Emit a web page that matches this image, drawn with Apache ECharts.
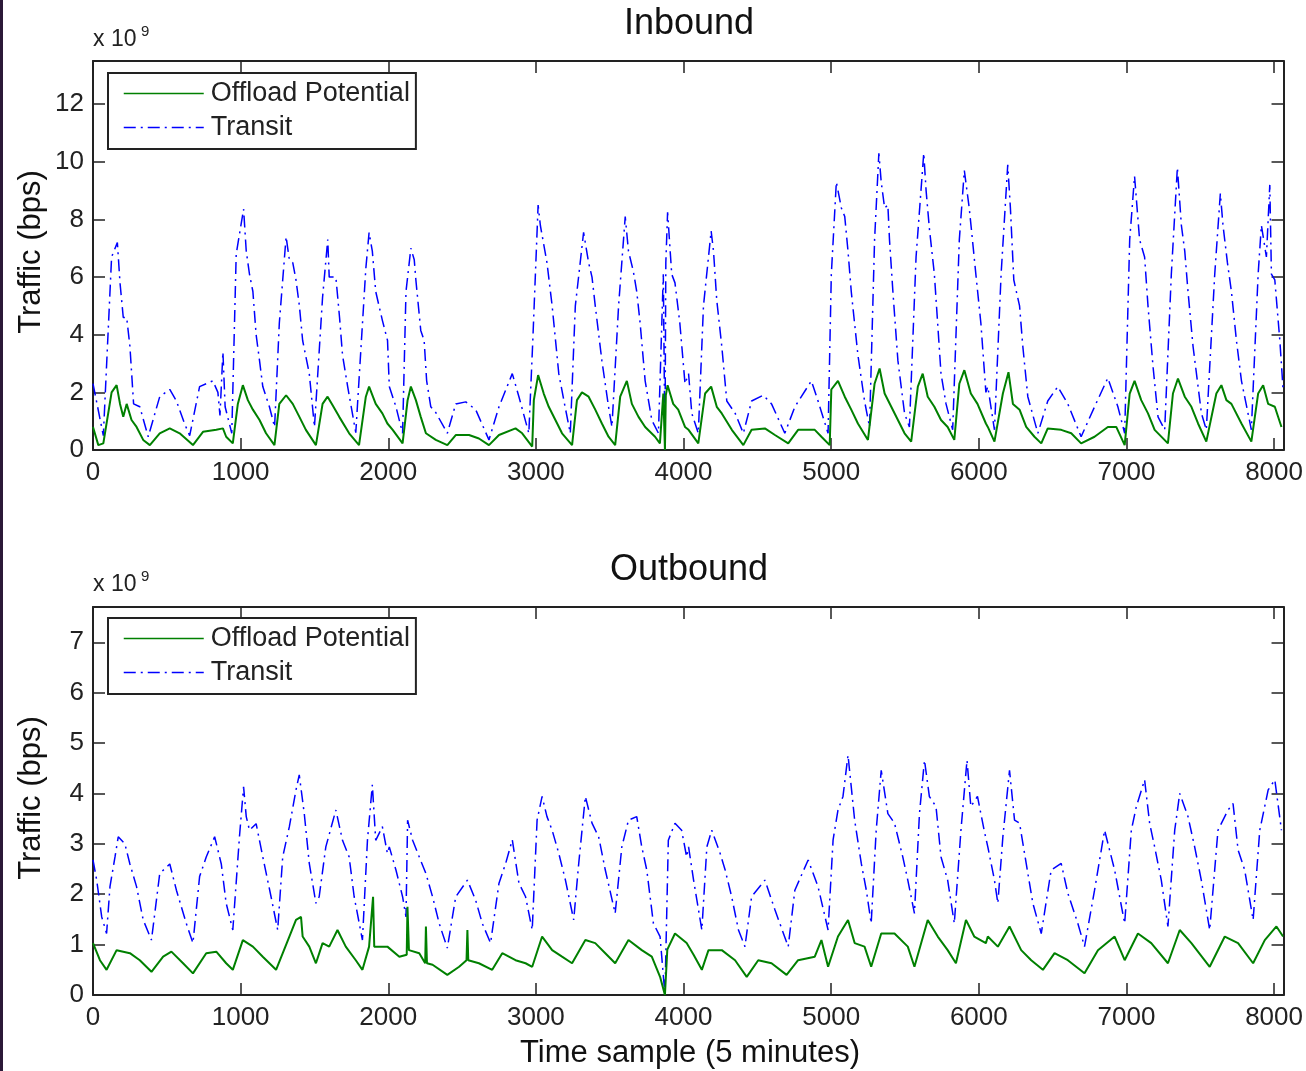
<!DOCTYPE html>
<html>
<head>
<meta charset="utf-8">
<title>Inbound / Outbound traffic</title>
<script src="https://cdn.jsdelivr.net/npm/echarts@6/dist/echarts.min.js"></script>
<style>
  html, body { margin: 0; padding: 0; background: #fff; }
  #chart { width: 1306px; height: 1071px; }
</style>
</head>
<body>
<div id="chart"></div>
<script>
// values in units of 1e9 bps, x = time sample (5 min each)
var inOffload = [[0,0.8],[36,0.17],[70,0.23],[126,2.0],[160,2.25],[183,1.6],[205,1.15],[228,1.6],[261,1.04],[295,0.8],[340,0.35],[385,0.17],[452,0.58],[520,0.75],[587,0.58],[677,0.17],[745,0.63],[835,0.7],[880,0.75],[902,0.46],[947,0.23],[981,1.6],[1015,2.25],[1049,1.73],[1083,1.4],[1128,1.04],[1172,0.58],[1229,0.17],[1262,1.6],[1308,1.9],[1353,1.6],[1398,1.15],[1442,0.7],[1510,0.17],[1555,1.6],[1589,1.85],[1623,1.55],[1668,1.15],[1735,0.58],[1802,0.17],[1848,1.85],[1870,2.2],[1915,1.6],[1960,1.27],[1994,0.92],[2030,0.7],[2097,0.23],[2131,1.73],[2153,2.2],[2187,1.73],[2220,1.15],[2255,0.58],[2322,0.35],[2400,0.17],[2457,0.52],[2547,0.52],[2614,0.4],[2682,0.17],[2750,0.52],[2862,0.75],[2907,0.58],[2975,0.12],[2986,1.73],[3015,2.6],[3053,1.96],[3087,1.5],[3132,1.04],[3177,0.58],[3245,0.17],[3278,1.73],[3312,2.0],[3357,1.85],[3402,1.4],[3447,0.92],[3492,0.46],[3537,0.17],[3571,1.85],[3616,2.4],[3650,1.6],[3695,1.15],[3740,0.8],[3807,0.46],[3840,0.23],[3863,1.96],[3874,0],[3880,1.9],[3892,2.25],[3930,1.6],[3964,1.4],[4010,0.8],[4034,0.7],[4100,0.23],[4146,1.96],[4187,2.2],[4225,1.5],[4259,1.27],[4327,0.7],[4405,0.17],[4461,0.7],[4551,0.75],[4619,0.52],[4709,0.23],[4776,0.7],[4889,0.7],[4934,0.46],[4990,0.17],[5001,2.1],[5046,2.4],[5092,1.85],[5136,1.4],[5181,0.92],[5249,0.35],[5294,2.3],[5328,2.83],[5362,1.96],[5407,1.5],[5452,1.04],[5497,0.58],[5542,0.29],[5587,2.2],[5620,2.65],[5654,1.85],[5699,1.5],[5744,1.04],[5789,0.8],[5834,0.35],[5868,2.3],[5902,2.77],[5946,1.96],[5991,1.6],[6048,0.92],[6061,0.8],[6106,0.29],[6163,1.96],[6201,2.7],[6231,1.6],[6276,1.4],[6321,0.8],[6377,0.46],[6423,0.23],[6467,0.75],[6558,0.7],[6626,0.58],[6693,0.23],[6784,0.46],[6874,0.8],[6931,0.8],[6988,0.17],[7022,1.96],[7055,2.4],[7100,1.73],[7146,1.27],[7191,0.7],[7281,0.23],[7315,1.96],[7349,2.48],[7395,1.85],[7440,1.5],[7485,0.92],[7541,0.29],[7609,1.96],[7643,2.25],[7677,1.73],[7711,1.6],[7779,0.92],[7846,0.29],[7892,1.96],[7926,2.25],[7960,1.6],[8005,1.5],[8050,0.8]];

var inTransit = [[0,2.3],[70,0.5],[126,6.7],[165,7.2],[183,5.8],[205,4.6],[228,4.6],[250,3.6],[275,1.6],[317,1.5],[374,0.46],[452,1.85],[520,2.1],[565,1.7],[621,0.9],[655,0.5],[722,2.2],[812,2.4],[846,2.0],[860,1.2],[880,3.4],[895,1.5],[940,0.58],[970,6.8],[1020,8.36],[1038,6.9],[1060,6.1],[1083,5.5],[1105,4.0],[1128,3.1],[1150,2.2],[1195,1.5],[1230,0.8],[1262,4.4],[1308,7.4],[1330,6.6],[1353,6.5],[1375,5.9],[1398,5.0],[1420,3.8],[1465,2.65],[1500,0.8],[1555,5.3],[1590,7.3],[1600,6.0],[1645,6.0],[1670,4.6],[1690,3.3],[1725,2.2],[1780,0.6],[1848,6.3],[1870,7.55],[1892,6.9],[1915,5.5],[1960,4.5],[1995,3.8],[2007,2.2],[2052,1.5],[2097,0.58],[2120,5.5],[2153,7.0],[2176,6.6],[2187,5.9],[2220,4.15],[2243,3.8],[2260,2.4],[2288,1.5],[2322,1.3],[2400,0.58],[2457,1.6],[2525,1.67],[2592,1.4],[2682,0.35],[2750,1.5],[2840,2.65],[2885,1.85],[2952,0.58],[2979,3.8],[3015,8.5],[3030,7.8],[3075,6.5],[3110,5.0],[3155,2.65],[3190,1.7],[3233,0.58],[3267,5.0],[3323,7.55],[3357,6.5],[3380,6.0],[3402,5.0],[3447,3.1],[3492,1.5],[3515,0.8],[3560,5.0],[3605,8.1],[3627,6.9],[3660,6.2],[3683,5.5],[3706,4.4],[3740,2.4],[3785,1.04],[3830,0.58],[3863,6.1],[3874,0],[3880,6.5],[3892,8.25],[3920,6.1],[3942,5.8],[3975,4.4],[4010,2.3],[4034,2.65],[4056,1.27],[4100,0.58],[4135,5.0],[4187,7.6],[4203,6.9],[4225,5.2],[4259,3.6],[4293,1.7],[4350,1.27],[4405,0.58],[4461,1.7],[4540,1.9],[4596,1.6],[4686,0.58],[4754,1.5],[4866,2.4],[4911,1.7],[4979,0.58],[5001,6.1],[5035,9.3],[5069,8.4],[5092,8.1],[5114,6.9],[5136,5.5],[5181,3.3],[5226,1.7],[5260,0.8],[5294,7.3],[5323,10.3],[5339,9.3],[5362,8.4],[5384,8.5],[5395,7.3],[5418,5.5],[5452,3.1],[5497,1.27],[5530,0.8],[5575,6.7],[5627,10.3],[5643,9.0],[5665,7.7],[5699,6.1],[5744,2.65],[5778,1.6],[5823,0.7],[5868,7.3],[5902,9.7],[5935,8.4],[5951,7.6],[5980,6.1],[6014,4.4],[6048,2.0],[6061,2.2],[6106,0.7],[6151,6.1],[6196,9.9],[6214,8.4],[6237,5.9],[6276,5.0],[6298,3.6],[6332,1.85],[6400,0.58],[6467,1.7],[6535,2.2],[6603,1.6],[6693,0.46],[6784,1.5],[6874,2.5],[6942,1.5],[6988,0.58],[7022,7.3],[7055,9.5],[7089,7.3],[7123,6.7],[7146,5.0],[7180,2.9],[7214,1.15],[7259,0.7],[7304,6.1],[7345,9.8],[7372,7.8],[7395,6.9],[7417,5.5],[7451,3.6],[7508,1.27],[7541,0.7],[7598,6.1],[7636,8.9],[7654,7.8],[7684,6.5],[7711,5.5],[7745,3.8],[7779,2.4],[7846,0.7],[7892,6.1],[7914,7.8],[7948,6.7],[7971,9.2],[7982,6.1],[8005,5.9],[8039,3.8],[8061,2.1]];

var outOffload = [[0,1.03],[47,0.69],[92,0.5],[160,0.89],[250,0.83],[317,0.69],[396,0.46],[475,0.76],[531,0.86],[610,0.63],[677,0.43],[767,0.83],[835,0.86],[902,0.63],[947,0.5],[1015,1.09],[1083,0.96],[1150,0.76],[1240,0.5],[1330,1.16],[1375,1.49],[1409,1.55],[1420,1.16],[1465,0.96],[1510,0.63],[1555,1.03],[1600,0.96],[1656,1.29],[1712,0.96],[1780,0.69],[1825,0.5],[1870,0.96],[1897,1.95],[1905,0.96],[1994,0.96],[2075,0.76],[2125,0.8],[2130,1.75],[2140,0.89],[2210,0.83],[2250,0.63],[2255,1.36],[2262,0.63],[2300,0.6],[2400,0.4],[2480,0.56],[2530,0.69],[2536,1.29],[2542,0.69],[2614,0.63],[2704,0.5],[2772,0.83],[2862,0.69],[2930,0.63],[2975,0.56],[3042,1.16],[3110,0.89],[3177,0.76],[3245,0.63],[3335,1.09],[3402,1.03],[3470,0.83],[3537,0.63],[3627,1.09],[3717,0.89],[3785,0.76],[3841,0.36],[3874,0],[3890,0.9],[3942,1.22],[4021,1.03],[4068,0.8],[4124,0.5],[4169,0.89],[4259,0.89],[4349,0.69],[4428,0.36],[4506,0.69],[4596,0.63],[4698,0.4],[4776,0.69],[4889,0.76],[4934,1.09],[4979,0.56],[5046,1.16],[5114,1.49],[5159,1.03],[5226,0.96],[5271,0.56],[5339,1.22],[5429,1.22],[5519,0.96],[5564,0.56],[5654,1.49],[5722,1.16],[5789,0.89],[5845,0.63],[5913,1.49],[5969,1.16],[6048,1.03],[6061,1.16],[6129,0.96],[6208,1.36],[6287,0.89],[6355,0.69],[6434,0.5],[6513,0.83],[6603,0.69],[6716,0.43],[6807,0.89],[6920,1.16],[6988,0.69],[7078,1.22],[7168,1.03],[7281,0.63],[7361,1.29],[7440,1.03],[7564,0.56],[7666,1.16],[7756,1.03],[7858,0.63],[7937,1.09],[8016,1.36],[8061,1.16]];

var outTransit = [[0,2.68],[25,2.28],[59,1.55],[92,1.22],[115,2.15],[149,2.74],[171,3.14],[216,3.0],[250,2.6],[295,2.15],[340,1.49],[396,1.09],[452,2.41],[520,2.6],[565,2.08],[632,1.42],[677,1.03],[722,2.35],[767,2.74],[824,3.14],[869,2.6],[902,1.82],[947,1.29],[992,3.14],[1020,4.13],[1038,3.54],[1060,3.27],[1105,3.4],[1150,2.74],[1206,1.95],[1251,1.29],[1285,2.74],[1330,3.34],[1375,4.07],[1397,4.37],[1431,3.6],[1465,2.61],[1510,1.82],[1532,1.95],[1577,2.94],[1645,3.67],[1690,3.07],[1735,2.74],[1769,1.95],[1825,1.09],[1859,3.07],[1892,4.17],[1915,3.07],[1960,3.34],[1994,2.81],[2007,2.94],[2052,2.48],[2097,1.95],[2120,1.55],[2131,3.47],[2165,3.07],[2210,2.74],[2255,2.41],[2300,1.95],[2345,1.42],[2400,0.93],[2457,1.95],[2536,2.28],[2592,1.88],[2637,1.42],[2693,1.03],[2750,2.22],[2795,2.61],[2840,3.08],[2885,2.22],[2930,1.95],[2975,1.29],[3008,3.47],[3042,3.94],[3075,3.54],[3110,3.27],[3155,2.81],[3200,2.28],[3256,1.49],[3290,2.61],[3335,3.94],[3380,3.41],[3425,3.14],[3470,2.48],[3537,1.62],[3582,2.94],[3627,3.47],[3683,3.54],[3717,2.94],[3751,2.48],[3796,1.42],[3841,1.16],[3874,0],[3897,3.07],[3942,3.41],[3987,3.27],[4021,2.74],[4034,2.94],[4068,2.28],[4124,1.29],[4158,2.94],[4191,3.27],[4248,2.81],[4282,2.48],[4326,1.95],[4372,1.29],[4416,0.96],[4461,1.95],[4551,2.28],[4619,1.69],[4709,0.96],[4754,2.08],[4844,2.68],[4911,2.15],[4979,1.29],[5013,3.08],[5046,3.67],[5080,3.94],[5114,4.76],[5136,4.13],[5159,3.47],[5204,2.61],[5238,2.08],[5271,1.42],[5305,3.27],[5339,4.46],[5384,3.6],[5429,3.41],[5485,2.74],[5519,2.28],[5564,1.62],[5598,3.6],[5632,4.66],[5665,3.94],[5710,3.74],[5744,2.74],[5789,2.28],[5834,1.42],[5879,3.27],[5920,4.66],[5946,3.74],[5991,3.94],[6036,3.27],[6061,2.94],[6106,2.28],[6129,1.82],[6163,3.14],[6208,4.46],[6242,3.47],[6276,3.41],[6321,2.61],[6366,1.82],[6423,1.22],[6490,2.48],[6558,2.61],[6603,2.02],[6671,1.42],[6716,0.96],[6784,2.08],[6852,3.27],[6920,2.48],[6988,1.42],[7033,3.27],[7067,3.74],[7123,4.27],[7157,3.41],[7191,2.94],[7236,2.28],[7281,1.36],[7327,3.27],[7361,4.0],[7417,3.54],[7462,2.94],[7507,2.28],[7564,1.29],[7620,3.27],[7688,3.67],[7722,3.8],[7756,2.88],[7801,2.48],[7858,1.49],[7903,3.27],[7960,4.07],[8005,4.27],[8050,3.27]];

var xMax = 8064;
var inYMax = 13.5, outYMax = 7.7;

var font = "'Liberation Sans', Arial, Helvetica, sans-serif";
var axisCol = '#222';
var green = '#008000', blue = '#0000ff';
var dashDot = [12, 5, 2, 5];

function xAx(grid, pos, labels) {
    return {
        type: 'value', gridIndex: grid, position: pos,
        min: 0, max: xMax, interval: 1000,
        axisLine: { show: true, onZero: false, lineStyle: { color: axisCol, width: 2 } },
        axisTick: { show: true, inside: true, length: 12, lineStyle: { color: axisCol, width: 1.5 } },
        axisLabel: {
            show: labels, margin: 10, color: '#222', fontSize: 26, fontFamily: font,
            formatter: function (v) { return v % 1000 === 0 ? String(v) : ''; }
        },
        splitLine: { show: false }
    };
}
function yAx(grid, pos, max, step, labels) {
    return {
        type: 'value', gridIndex: grid, position: pos,
        min: 0, max: max, interval: step,
        axisLine: { show: true, onZero: false, lineStyle: { color: axisCol, width: 2 } },
        axisTick: { show: true, inside: true, length: 12, lineStyle: { color: axisCol, width: 1.5 } },
        axisLabel: {
            show: labels, margin: 9, color: '#222', fontSize: 26, fontFamily: font,
            formatter: function (v) { return Math.abs(v / step - Math.round(v / step)) < 1e-6 ? String(v) : ''; }
        },
        splitLine: { show: false }
    };
}
function legendAt(top, names) {
    return {
        orient: 'vertical', left: 108, top: top,
        data: names,
        itemWidth: 80, itemHeight: 20, itemGap: 7,
        padding: [7, 6, 8, 15],
        backgroundColor: '#fff', borderColor: axisCol, borderWidth: 2, borderRadius: 0,
        itemStyle: { opacity: 0 },
        lineStyle: { width: 1.5 },
        textStyle: { fontSize: 27, fontFamily: font, color: '#222', padding: [0, 0, 0, 2] },
        formatter: function (n) { return n.trim(); },
        selectedMode: false
    };
}

var dom = document.getElementById('chart');
var myChart = echarts.init(dom, null, { renderer: 'canvas' });
var option = {
    backgroundColor: '#fff',
    animation: false,
    grid: [
        { left: 93, top: 61, width: 1193, height: 389 },
        { left: 93, top: 607, width: 1193, height: 388 }
    ],
    xAxis: [xAx(0, 'bottom', true), xAx(0, 'top', false), xAx(1, 'bottom', true), xAx(1, 'top', false)],
    yAxis: [yAx(0, 'left', inYMax, 2, true), yAx(0, 'right', inYMax, 2, false),
            yAx(1, 'left', outYMax, 1, true), yAx(1, 'right', outYMax, 1, false)],
    legend: [
        legendAt(73, ['Offload Potential', 'Transit']),
        legendAt(618, ['Offload Potential ', 'Transit '])
    ],
    graphic: [
        { type: 'rect', left: 0, top: 0, shape: { width: 3, height: 1071 }, style: { fill: '#2b1838' } },
        { type: 'text', x: 689, y: 24, style: { text: 'Inbound', font: '36px ' + font, fill: '#111', align: 'center', verticalAlign: 'middle' } },
        { type: 'text', x: 689, y: 570, style: { text: 'Outbound', font: '36px ' + font, fill: '#111', align: 'center', verticalAlign: 'middle' } },
        { type: 'text', x: 93, y: 40, style: { text: 'x 10', font: '23px ' + font, fill: '#222', align: 'left', verticalAlign: 'middle' } },
        { type: 'text', x: 141, y: 32, style: { text: '9', font: '15px ' + font, fill: '#222', align: 'left', verticalAlign: 'middle' } },
        { type: 'text', x: 93, y: 585, style: { text: 'x 10', font: '23px ' + font, fill: '#222', align: 'left', verticalAlign: 'middle' } },
        { type: 'text', x: 141, y: 577, style: { text: '9', font: '15px ' + font, fill: '#222', align: 'left', verticalAlign: 'middle' } },
        { type: 'text', x: 31, y: 252, rotation: Math.PI / 2, style: { text: 'Traffic (bps)', font: '31px ' + font, fill: '#111', align: 'center', verticalAlign: 'middle' } },
        { type: 'text', x: 31, y: 798, rotation: Math.PI / 2, style: { text: 'Traffic (bps)', font: '31px ' + font, fill: '#111', align: 'center', verticalAlign: 'middle' } },
        { type: 'text', x: 690, y: 1053, style: { text: 'Time sample (5 minutes)', font: '31px ' + font, fill: '#111', align: 'center', verticalAlign: 'middle' } }
    ],
    series: [
        { name: 'Offload Potential', type: 'line', xAxisIndex: 0, yAxisIndex: 0, data: inOffload,
          symbol: 'none', showSymbol: false, z: 3, lineStyle: { color: green, width: 2 }, itemStyle: { color: green } },
        { name: 'Transit', type: 'line', xAxisIndex: 0, yAxisIndex: 0, data: inTransit,
          symbol: 'none', showSymbol: false, z: 2, lineStyle: { color: blue, width: 1.5, type: dashDot }, itemStyle: { color: blue } },
        { name: 'Offload Potential ', type: 'line', xAxisIndex: 2, yAxisIndex: 2, data: outOffload,
          symbol: 'none', showSymbol: false, z: 3, lineStyle: { color: green, width: 2 }, itemStyle: { color: green } },
        { name: 'Transit ', type: 'line', xAxisIndex: 2, yAxisIndex: 2, data: outTransit,
          symbol: 'none', showSymbol: false, z: 2, lineStyle: { color: blue, width: 1.5, type: dashDot }, itemStyle: { color: blue } }
    ]
};
if (option && typeof option === "object") {
    myChart.setOption(option, true);
}
</script>
</body>
</html>
